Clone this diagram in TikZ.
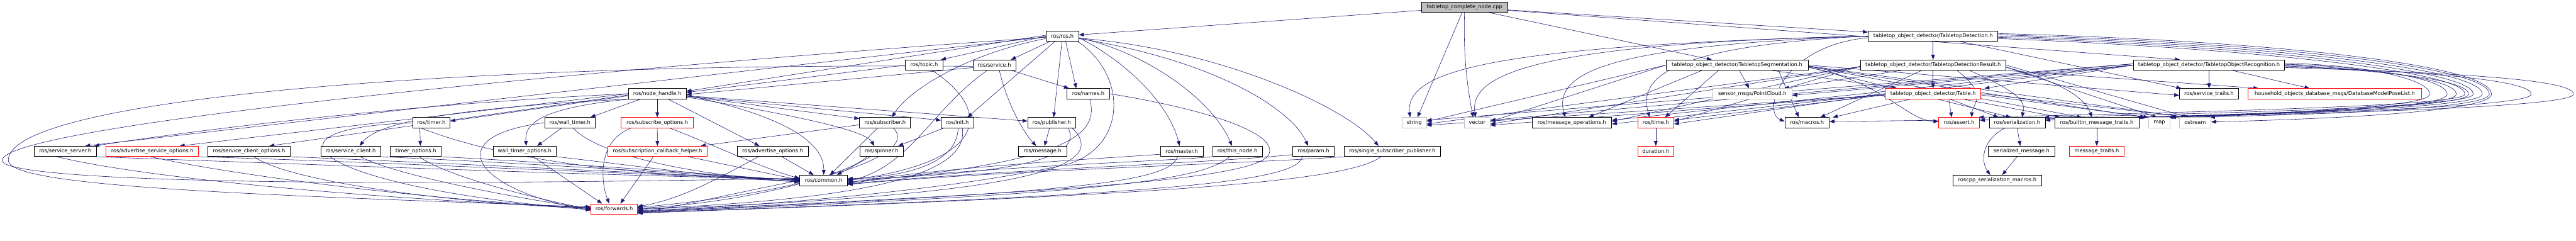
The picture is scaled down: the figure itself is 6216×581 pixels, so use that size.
\documentclass[tikz,border=0pt]{standalone}
\usepackage{fontspec}
\setmainfont{DejaVu Sans}
\usetikzlibrary{arrows.meta}
\definecolor{eblue}{HTML}{191970}
\definecolor{grayb}{HTML}{BFBFBF}
\pgfdeclarelayer{bg}
\pgfsetlayers{bg,main}
\newcommand\mk[6]{\node[#6,minimum width={(#3)-(#2)}] (#1) at ({((#2)+(#3))/2},#4) {#5};}
\tikzset{
 box/.style={draw=black,line width=1pt,minimum height=25pt,inner sep=0pt,fill=white,font=\fontsize{12.6}{15}\selectfont},
 redbox/.style={box,draw=red},
 graybox/.style={box,draw=grayb},
 rootbox/.style={box,fill=grayb},
 edg/.style={draw=eblue,line width=0.9pt,-{Triangle[length=12pt,width=9pt]}},
}
\begin{document}
\begin{tikzpicture}[x=1pt,y=-1pt]
\useasboundingbox (0,0) rectangle (6216,581);
% nodes
\mk{T}{3430}{3638}{17.5}{tabletop\_complete\_node.cpp}{rootbox}
\mk{ros}{2524}{2603}{87}{ros/ros.h}{box}
\mk{TD}{4508}{4821}{87}{tabletop\_object\_detector/TabletopDetection.h}{box}
\mk{topic}{2185}{2275}{157}{ros/topic.h}{box}
\mk{service}{2348}{2451}{157}{ros/service.h}{box}
\mk{TS}{4020}{4363}{157}{tabletop\_object\_detector/TabletopSegmentation.h}{box}
\mk{TDR}{4489}{4840}{157}{tabletop\_object\_detector/TabletopDetectionResult.h}{box}
\mk{TOR}{5148}{5513}{157}{tabletop\_object\_detector/TabletopObjectRecognition.h}{box}
\mk{nh}{1516}{1656}{226}{ros/node\_handle.h}{box}
\mk{names}{2575}{2677}{226}{ros/names.h}{box}
\mk{pc}{4133}{4324}{226}{sensor\_msgs/PointCloud.h}{graybox}
\mk{table}{4549}{4780}{226}{tabletop\_object\_detector/Table.h}{redbox}
\mk{straits}{5259}{5402}{226}{ros/service\_traits.h}{box}
\mk{hh}{5425}{5843}{226}{household\_objects\_database\_msgs/DatabaseModelPoseList.h}{redbox}
\mk{timer}{996}{1086}{296}{ros/timer.h}{box}
\mk{wtimer}{1314}{1436}{296}{ros/wall\_timer.h}{box}
\mk{subopt}{1499}{1673}{296}{ros/subscribe\_options.h}{redbox}
\mk{sub}{2074}{2197}{296}{ros/subscriber.h}{box}
\mk{init}{2271}{2349}{296}{ros/init.h}{box}
\mk{pub}{2480}{2595}{296}{ros/publisher.h}{box}
\mk{string}{3383}{3442}{296}{string}{graybox}
\mk{vector}{3533}{3596}{296}{vector}{graybox}
\mk{msgops}{3697}{3889}{296}{ros/message\_operations.h}{box}
\mk{time}{3952}{4039}{296}{ros/time.h}{redbox}
\mk{macros}{4307}{4414}{296}{ros/macros.h}{box}
\mk{assert}{4678}{4777}{296}{ros/assert.h}{redbox}
\mk{ser}{4800}{4935}{296}{ros/serialization.h}{box}
\mk{bmt}{4958}{5161}{296}{ros/builtin\_message\_traits.h}{box}
\mk{map}{5185}{5236}{296}{map}{graybox}
\mk{ostream}{5259}{5335}{296}{ostream}{graybox}
\mk{ss}{83}{232}{365}{ros/service\_server.h}{box}
\mk{aso}{256}{479}{365}{ros/advertise\_service\_options.h}{redbox}
\mk{sco}{502}{700}{365}{ros/service\_client\_options.h}{box}
\mk{sc}{774}{918}{365}{ros/service\_client.h}{box}
\mk{topt}{942}{1065}{365}{timer\_options.h}{box}
\mk{wtopt}{1190}{1342}{365}{wall\_timer\_options.h}{box}
\mk{sch}{1467}{1706}{365}{ros/subscription\_callback\_helper.h}{redbox}
\mk{ao}{1779}{1950}{365}{ros/advertise\_options.h}{box}
\mk{spin}{2075}{2179}{365}{ros/spinner.h}{box}
\mk{msg}{2457}{2574}{365}{ros/message.h}{box}
\mk{master}{2800}{2903}{365}{ros/master.h}{box}
\mk{thisnode}{2926}{3046}{365}{ros/this\_node.h}{box}
\mk{param}{3119}{3220}{365}{ros/param.h}{box}
\mk{ssp}{3243}{3476}{365}{ros/single\_subscriber\_publisher.h}{box}
\mk{duration}{3952}{4039}{365}{duration.h}{redbox}
\mk{sm}{4798}{4958}{365}{serialized\_message.h}{box}
\mk{mt}{4993}{5126}{365}{message\_traits.h}{redbox}
\mk{common}{1930}{2045}{435}{ros/common.h}{box}
\mk{rsm}{4712}{4927}{435}{roscpp\_serialization\_macros.h}{box}
\mk{fwd}{1426}{1538}{504}{ros/forwards.h}{redbox}

\begin{pgfonlayer}{bg}
% root
\draw[edg] (T) -- (ros);
\draw[edg] ([xshift=-6pt]T.south) -- ([xshift=8pt]string.north);
\draw[edg] (T.south) .. controls (3530,150) and (3545,230) .. ([xshift=-10pt]vector.north);
\draw[edg] (T) -- (TD);
\draw[edg] (T) -- ([xshift=-70pt]TOR.north);
\draw[edg] ([xshift=60pt]T.south) -- ([xshift=-61pt]TS.north);
% ros.h
\draw[edg] (ros.west) -- ([xshift=-5pt]topic.north east);
\draw[edg] ([xshift=10pt]ros.south west) -- ([xshift=-12pt]service.north east);
\draw[edg] ([yshift=-6pt]ros.west) .. controls (2330,130) and (2190,220) .. ([xshift=17pt]sub.north);
\draw[edg] ([xshift=22pt]ros.south west) -- ([xshift=-15pt]init.north east);
\draw[edg] ([xshift=-1pt]ros.south) -- ([xshift=5pt]pub.north);
\draw[edg] ([xshift=8pt]ros.south) -- ([xshift=-29pt]names.north);
\draw[edg] ([yshift=2pt]ros.west) -- ([yshift=6pt]nh.east);
\draw[edg] ([yshift=-2pt]ros.west) -- ([xshift=-27pt]ss.north east);
\draw[edg] ([yshift=-4pt]ros.east) .. controls (2720,150) and (2820,250) .. ([xshift=-5pt]master.north);
\draw[edg] ([yshift=-4pt]ros.east) .. controls (2780,130) and (2930,250) .. ([xshift=-13pt]thisnode.north);
\draw[edg] ([yshift=-6pt]ros.east) .. controls (2950,150) and (3120,270) .. ([xshift=-13pt]param.north);
\draw[edg] ([yshift=-5pt]ros.east) .. controls (2950,120) and (3250,260) .. ([xshift=-33pt]ssp.north);
\draw[edg] ([yshift=-3pt]ros.west) .. controls (1500,160) and (5,300) .. (5,387) .. controls (5,430) and (600,455) .. ([yshift=5pt]common.west);
\draw[edg] ([xshift=-3pt]ros.south east) .. controls (2720,180) and (2720,350) .. (2580,395) .. controls (2300,460) and (1800,500) .. ([yshift=-4pt]fwd.east);
% node_handle.h
\draw[edg] (nh.west) .. controls (1000,250) and (500,310) .. ([xshift=-5pt]ss.north east);
\draw[edg] (nh.west) -- ([xshift=-46pt]aso.north east);
\draw[edg] ([yshift=-3pt]nh.west) -- ([xshift=49pt]sco.north);
\draw[edg] (nh.south west) .. controls (1000,265) and (900,310) .. ([xshift=22pt]sc.north);
\draw[edg] ([yshift=-5pt]nh.west) -- ([yshift=4pt]timer.east);
\draw[edg] ([xshift=30pt]nh.south west) -- ([xshift=-12pt]wtimer.north east);
\draw[edg] ([xshift=5pt]nh.south west) .. controls (1300,260) and (1265,300) .. ([xshift=4pt]wtopt.north);
\draw[edg] (nh) -- (subopt);
\draw[edg] ([xshift=26pt]nh.south) -- ([xshift=-32pt]ao.north);
\draw[edg] ([yshift=-4pt]nh.east) .. controls (1850,270) and (1990,330) .. (common.north);
\draw[edg] ([yshift=-6pt]nh.east) -- ([yshift=10pt]sub.west);
\draw[edg] ([yshift=-6pt]nh.east) -- ([yshift=6pt]init.west);
\draw[edg] ([yshift=-5pt]nh.east) -- ([yshift=4pt]pub.west);
\draw[edg] ([yshift=-8pt]nh.east) .. controls (1990,290) and (2090,320) .. ([xshift=-17pt]spin.north);
% timers
\draw[edg] ([xshift=-28pt]timer.south) -- ([xshift=11pt]topt.north);
\draw[edg] ([xshift=-25pt]timer.south) .. controls (1250,400) and (1600,425) .. ([yshift=-2pt]common.west);
\draw[edg] (timer.west) .. controls (600,310) and (750,450) .. ([yshift=-2pt]fwd.west);
\draw[edg] ([xshift=-20pt]wtimer.south) -- ([xshift=30pt]wtopt.north);
\draw[edg] (wtimer.west) .. controls (1050,330) and (1150,460) .. ([yshift=-3pt]fwd.west);
\draw[edg] ([xshift=8pt]wtimer.south) .. controls (1450,380) and (1700,425) .. ([yshift=-3pt]common.west);
% left row 5 -> common / forwards
\draw[edg] (ss.south east) .. controls (700,395) and (1500,425) .. ([yshift=3pt]common.west);
\draw[edg] ([xshift=-20pt]ss.south) .. controls (350,430) and (900,480) .. ([yshift=3pt]fwd.west);
\draw[edg] (aso.south east) .. controls (900,390) and (1500,420) .. ([yshift=2pt]common.west);
\draw[edg] ([xshift=-4pt]aso.south) .. controls (550,420) and (1000,480) .. ([yshift=2pt]fwd.west);
\draw[edg] (sco.south east) .. controls (1000,390) and (1500,415) .. ([yshift=1pt]common.west);
\draw[edg] ([xshift=12pt]sco.south) .. controls (700,440) and (1100,490) .. ([yshift=1pt]fwd.west);
\draw[edg] (sc.south east) .. controls (1200,390) and (1600,415) .. (common.west);
\draw[edg] ([xshift=24pt]sc.south) .. controls (950,420) and (1200,470) .. (fwd.west);
\draw[edg] (topt.south east) .. controls (1300,390) and (1650,415) .. ([yshift=-1pt]common.west);
\draw[edg] ([xshift=8pt]topt.south) .. controls (1070,420) and (1250,470) .. ([yshift=-1pt]fwd.west);
\draw[edg] (wtopt.south east) .. controls (1500,395) and (1700,425) .. ([yshift=-4pt]common.west);
\draw[edg] ([xshift=21pt]wtopt.south) -- ([xshift=-29pt]fwd.north);
\draw[edg] (subopt) -- (sch);
\draw[edg] ([xshift=-63pt]subopt.south) .. controls (1440,340) and (1450,440) .. ([xshift=-12pt]fwd.north);
\draw[edg] ([xshift=30pt]subopt.south) .. controls (1700,340) and (1850,410) .. ([yshift=5pt]common.west);
\draw[edg] ([xshift=-10pt]sch.south) -- ([xshift=15pt]fwd.north);
\draw[edg] ([xshift=-46pt]sch.south east) -- ([yshift=1pt]common.west);
\draw[edg] ([xshift=22pt]ao.south) -- ([xshift=-24pt]common.north);
\draw[edg] ([xshift=-34pt]ao.south) .. controls (1750,420) and (1650,480) .. ([yshift=6pt]fwd.east);
% middle
\draw[edg] ([yshift=-5pt]sub.west) -- ([xshift=-16pt]sch.north east);
\draw[edg] ([xshift=-18pt]sub.south) -- ([xshift=15pt]common.north);
\draw[edg] ([xshift=20pt]sub.south) .. controls (2230,380) and (1900,470) .. ([yshift=4pt]fwd.east);
\draw[edg] ([xshift=-27pt]spin.south) -- ([xshift=32pt]common.north);
\draw[edg] ([xshift=-35pt]spin.south) .. controls (2050,420) and (1800,490) .. ([yshift=2pt]fwd.east);
\draw[edg] ([xshift=-33pt]init.south) -- ([xshift=-12pt]spin.north east);
\draw[edg] ([xshift=2pt]init.south) .. controls (2310,390) and (2200,425) .. ([yshift=4pt]common.east);
\draw[edg] ([xshift=12pt]init.south) .. controls (2340,420) and (2100,480) .. (fwd.east);
\draw[edg] ([xshift=-5pt]pub.south) -- ([xshift=5pt]msg.north);
\draw[edg] ([xshift=40pt]pub.south) .. controls (2620,390) and (2400,420) .. ([yshift=2pt]common.east);
\draw[edg] ([xshift=50pt]pub.south) .. controls (2680,400) and (2500,470) .. ([yshift=-1pt]fwd.east);
\draw[edg] (topic.west) -- ([yshift=3pt]nh.east);
\draw[edg] ([xshift=20pt]topic.south) .. controls (2400,270) and (2380,390) .. (common.east);
\draw[edg] ([yshift=-6pt]service.west) -- ([yshift=-2pt]nh.east);
\draw[edg] ([xshift=-10pt]service.south east) -- ([xshift=5pt]names.north west);
\draw[edg] ([xshift=12pt]service.south) .. controls (2430,250) and (2470,320) .. ([xshift=-15pt]msg.north);
\draw[edg] ([xshift=-17pt]service.south) .. controls (2250,260) and (2200,400) .. ([yshift=-2pt]common.east);
\draw[edg] ([yshift=-3pt]service.west) .. controls (1200,150) and (20,230) .. (20,387) .. controls (20,450) and (600,470) .. ([yshift=5pt]fwd.west);
\draw[edg] ([xshift=4pt]names.south) .. controls (2650,320) and (2600,390) .. ([yshift=-4pt]common.east);
\draw[edg] (names.east) .. controls (2950,270) and (3090,330) .. (3060,375) .. controls (3020,440) and (2400,470) .. ([yshift=-6pt]fwd.east);
\draw[edg] ([yshift=-7pt]master.west) .. controls (2700,380) and (2300,400) .. ([yshift=-6pt]common.east);
\draw[edg] ([xshift=-10pt]master.south) .. controls (2820,440) and (2600,465) .. ([yshift=-7pt]fwd.east);
\draw[edg] (thisnode.south west) .. controls (2800,390) and (2300,405) .. ([yshift=-8pt]common.east);
\draw[edg] ([xshift=-19pt]thisnode.south) .. controls (2900,440) and (2600,470) .. ([yshift=-8pt]fwd.east);
\draw[edg] ([yshift=-8pt]param.west) .. controls (2900,395) and (2400,410) .. ([yshift=-9pt]common.east);
\draw[edg] ([xshift=-27pt]param.south) .. controls (3130,440) and (2800,470) .. ([yshift=-9pt]fwd.east);
\draw[edg] (ssp.south west) .. controls (3000,395) and (2400,412) .. ([yshift=-10pt]common.east);
\draw[edg] ([xshift=-27pt]ssp.south) .. controls (3250,440) and (2800,470) .. ([yshift=-10pt]fwd.east);
\draw[edg] (common.west) .. controls (1800,460) and (1650,495) .. ([yshift=-10pt]fwd.east);
% message side
\draw[edg] (time) -- (duration);
\draw[edg] (ser.south) -- ([xshift=-3pt]sm.north);
\draw[edg] ([xshift=-30pt]ser.south) .. controls (4780,340) and (4780,390) .. ([xshift=-17pt]rsm.north);
\draw[edg] ([xshift=-11pt]sm.south) -- ([xshift=12pt]rsm.north);
\draw[edg] (bmt) -- (mt);
\draw[edg] (TD) -- (TDR);
\draw[edg] (TDR) -- (table);
\draw[edg] ([xshift=6pt]TS.south) -- ([xshift=-8pt]pc.north);
\draw[edg] ([xshift=85pt]TS.south) -- ([xshift=-87pt]table.north);
\draw[edg] (TOR) -- (straits);
\draw[edg] ([xshift=57pt]TOR.south) -- ([xshift=-61pt]hh.north);
\draw[edg] (TDR.south east) -- ([xshift=-184pt]hh.north);
\draw[edg] ([xshift=-77pt]TDR.south) -- ([xshift=-20pt]pc.north east);
\draw[edg] (TOR.west) -- ([yshift=-4pt]pc.east);
\draw[edg] (TOR.west) -- ([xshift=8pt]table.north east);
\draw[edg] (TS.east) -- ([yshift=-4pt]straits.west);
\draw[edg] ([xshift=65pt]TD.south) -- ([xshift=-67pt]straits.north);
% TD
\draw[edg] (TD.west) .. controls (3600,110) and (3390,170) .. ([xshift=-10pt]string.north);
\draw[edg] (TD.west) .. controls (3700,105) and (3545,180) .. ([xshift=-4pt]vector.north);
\draw[edg] (TD.west) .. controls (3900,110) and (3745,170) .. ([xshift=-16pt]msgops.north);
\draw[edg] (TD.west) .. controls (4050,110) and (3950,180) .. ([xshift=-15pt]time.north);
\draw[edg] ([yshift=-4pt]TD.west) .. controls (4300,110) and (4250,270) .. ([yshift=3pt]macros.west);
\draw[edg] ([yshift=6pt]TD.east) .. controls (5400,95) and (6012,150) .. (6012,227) .. controls (6012,265) and (5700,285) .. ([yshift=2pt]ostream.east);
\draw[edg] ([yshift=3pt]TD.east) .. controls (5400,100) and (6007,155) .. (6007,227) .. controls (6007,262) and (5600,278) .. ([xshift=-4pt]map.north east);
\draw[edg] (TD.east) .. controls (5400,105) and (5990,160) .. (5990,227) .. controls (5990,260) and (5500,275) .. ([xshift=-6pt]bmt.north east);
\draw[edg] ([yshift=-3pt]TD.east) .. controls (5400,110) and (5968,165) .. (5968,227) .. controls (5968,258) and (5400,272) .. ([xshift=-3pt]ser.north east);
\draw[edg] ([yshift=-6pt]TD.east) .. controls (5400,115) and (5948,170) .. (5948,227) .. controls (5948,256) and (5300,270) .. ([xshift=-3pt]assert.north east);
% TS
\draw[edg] (TS.west) -- ([yshift=3pt]string.east);
\draw[edg] (TS.west) -- ([yshift=3pt]vector.east);
\draw[edg] ([xshift=-85pt]TS.south) -- ([xshift=40pt]msgops.north);
\draw[edg] ([xshift=-45pt]TS.south) -- ([xshift=22pt]time.north);
\draw[edg] ([xshift=100pt]TS.south) -- ([xshift=-20pt]macros.north);
\draw[edg] ([yshift=-5pt]TS.east) .. controls (4550,200) and (4600,290) .. ([yshift=3pt]assert.west);
\draw[edg] ([yshift=-5pt]TS.east) -- ([xshift=-15pt]ser.north);
\draw[edg] ([yshift=-3pt]TS.east) -- ([xshift=-36pt]bmt.north);
\draw[edg] ([yshift=-3pt]TS.east) -- ([xshift=-8pt]map.north west);
\draw[edg] ([yshift=-2pt]TS.east) -- ([xshift=-20pt]ostream.north);
% TDR
\draw[edg] ([yshift=-4pt]TDR.west) -- ([yshift=-3pt]string.east);
\draw[edg] ([yshift=-4pt]TDR.west) -- ([yshift=-3pt]vector.east);
\draw[edg] ([yshift=-3pt]TDR.west) -- ([yshift=3pt]msgops.east);
\draw[edg] ([yshift=-3pt]TDR.west) -- ([yshift=3pt]time.east);
\draw[edg] ([xshift=-28pt]TDR.south) -- ([xshift=32pt]macros.north);
\draw[edg] ([xshift=58pt]TDR.south) .. controls (4800,230) and (4760,250) .. ([xshift=30pt]assert.north);
\draw[edg] ([xshift=88pt]TDR.south) .. controls (4890,230) and (4885,250) .. ([xshift=12pt]ser.north);
\draw[edg] ([yshift=-5pt]TDR.east) .. controls (4950,190) and (5030,230) .. ([xshift=-12pt]bmt.north);
\draw[edg] ([yshift=-5pt]TDR.east) -- ([xshift=-5pt]map.north);
\draw[edg] (TDR.east) -- ([xshift=-17pt]ostream.north);
% Table
\draw[edg] ([yshift=-3pt]table.west) -- ([yshift=-6pt]string.east);
\draw[edg] ([yshift=-3pt]table.west) -- ([yshift=-6pt]vector.east);
\draw[edg] (table.west) -- ([yshift=-3pt]msgops.east);
\draw[edg] (table.west) -- ([yshift=-3pt]time.east);
\draw[edg] ([xshift=-54pt]table.south) -- ([xshift=62pt]macros.north);
\draw[edg] ([xshift=38pt]table.south) -- ([xshift=-18pt]assert.north);
\draw[edg] ([xshift=40pt]table.south) -- ([xshift=-45pt]ser.north);
\draw[edg] ([xshift=72pt]table.south) -- ([xshift=-88pt]bmt.north);
\draw[edg] ([yshift=-3pt]table.east) -- (map.north west);
\draw[edg] (table.east) -- ([xshift=-10pt]ostream.north);
% TOR
\draw[edg] ([yshift=3pt]TOR.west) -- ([yshift=6pt]string.east);
\draw[edg] ([yshift=3pt]TOR.west) -- ([yshift=6pt]vector.east);
\draw[edg] (TOR.west) -- ([yshift=6pt]msgops.east);
\draw[edg] (TOR.west) -- ([yshift=6pt]time.east);
\draw[edg] ([yshift=4pt]TOR.east) .. controls (5700,155) and (5863,190) .. (5863,227) .. controls (5863,255) and (5600,265) .. ([xshift=-3pt]ostream.north east);
\draw[edg] ([yshift=2pt]TOR.east) .. controls (5720,160) and (5905,190) .. (5905,227) .. controls (5905,258) and (5600,270) .. ([xshift=2pt]map.north east);
\draw[edg] (TOR.east) .. controls (5720,165) and (5927,190) .. (5927,227) .. controls (5927,260) and (5500,272) .. ([xshift=-2pt]bmt.north east);
\draw[edg] ([yshift=-2pt]TOR.east) .. controls (5720,168) and (5957,190) .. (5957,227) .. controls (5957,262) and (5400,276) .. ([yshift=6pt]ser.east);
\draw[edg] ([yshift=-4pt]TOR.east) .. controls (5800,170) and (6108,190) .. (6108,227) .. controls (6108,265) and (5300,280) .. ([yshift=6pt]assert.east);
\draw[edg] ([yshift=-6pt]TOR.east) .. controls (5900,175) and (6210,190) .. (6210,227) .. controls (6210,268) and (5200,285) .. ([yshift=3pt]macros.east);
\end{pgfonlayer}
\end{tikzpicture}
\end{document}
